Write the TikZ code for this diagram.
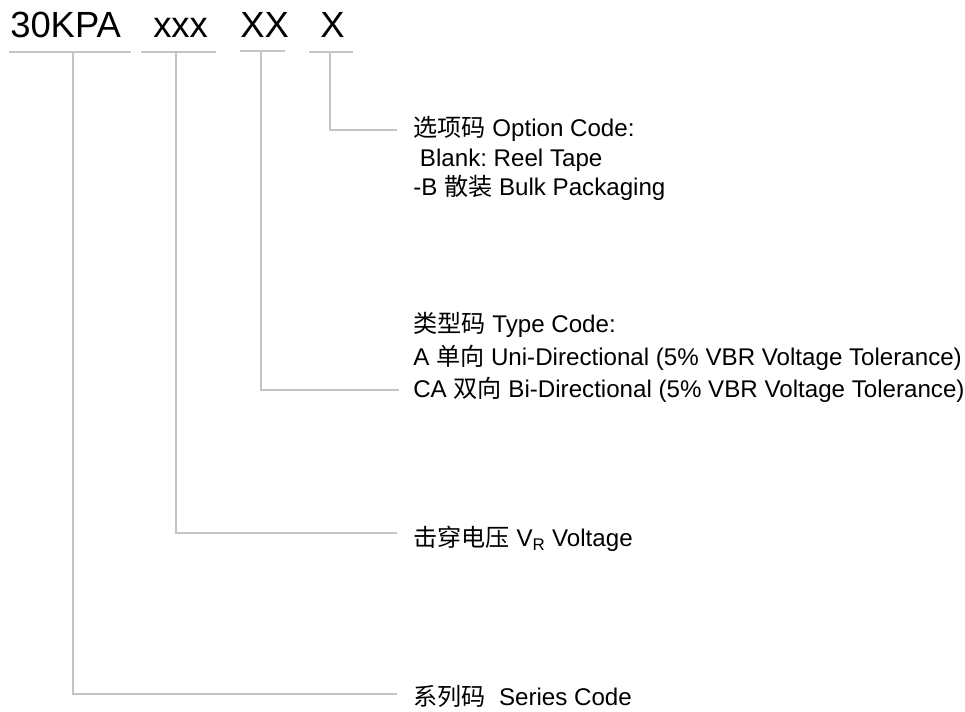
\documentclass[tikz,border=0pt]{standalone}
\usepackage{fontspec}
\setmainfont{Liberation Sans}
\newfontfamily\cjk{Noto Sans CJK SC}
\usetikzlibrary{positioning}
\frenchspacing

\begin{document}
\begin{tikzpicture}[
  x=0.75pt, y=-0.75pt,
  code/.style={font=\fontsize{27.3}{32}\selectfont, inner sep=0pt, anchor=base west},
  desc/.style={font=\fontsize{18.1}{22}\selectfont, inner sep=0pt, anchor=base west},
  lead/.style={draw=leadGray, line width=1.4pt},
]
\definecolor{leadGray}{HTML}{C4C4C4}
\useasboundingbox (0,0) rectangle (965,712);

% ============================================================================
% part number, one node per field
% ============================================================================
\node[code] (kpa)  at (10,38)  {30KPA};
\node[code] (volt) at (153,38) {xxx};
\node[code] (type) at (240,38) {XX};
\node[code] (opt)  at (320,38) {X};

% underlines and taps
\coordinate (kpaL)  at (9,52);   \coordinate (kpaR)  at (131,52);  \coordinate (kpaT)  at (73,52);
\coordinate (voltL) at (141,52); \coordinate (voltR) at (216,52);  \coordinate (voltT) at (176,52);
\coordinate (typeL) at (240,51); \coordinate (typeR) at (285,51);  \coordinate (typeT) at (261,51);
\coordinate (optL)  at (309,52); \coordinate (optR)  at (353,52);  \coordinate (optT)  at (330,52);
\foreach \f in {kpa,volt,type,opt} {
  \draw[lead] (\f L) -- (\f R);
}

% ============================================================================
% descriptions
% ============================================================================
% option code
\node[desc] (optA) at (413,137) {{\cjk 选项码} Option Code:};
\node[desc] (optB) at (413,167) {\ Blank: Reel Tape};
\node[desc] (optC) at (413,196) {-B {\cjk 散装} Bulk Packaging};

% type code
\node[desc] (typeA) at (413,333) {{\cjk 类型码} Type Code:};
\node[desc] (typeB) at (413,366) {A {\cjk 单向} Uni-Directional (5\% VBR Voltage Tolerance)};
\node[desc] (typeC) at (413,398) {CA {\cjk 双向} Bi-Directional (5\% VBR Voltage Tolerance)};

% breakdown voltage
\node[desc] (voltA) at (413,547) {{\cjk 击穿电压} V\textsubscript{R} Voltage};

% series code
\node[desc] (kpaA) at (413,706) {{\cjk 系列码}\ \ Series Code};

% ============================================================================
% leaders: tap on underline -> free end before the text
% ============================================================================
\coordinate (optE)  at (397,130);
\coordinate (typeE) at (399,390);
\coordinate (voltE) at (397,533);
\coordinate (kpaE)  at (397,694);

\draw[lead] (optT)  |- (optE);
\draw[lead] (typeT) |- (typeE);
\draw[lead] (voltT) |- (voltE);
\draw[lead] (kpaT)  |- (kpaE);

\end{tikzpicture}
\end{document}
